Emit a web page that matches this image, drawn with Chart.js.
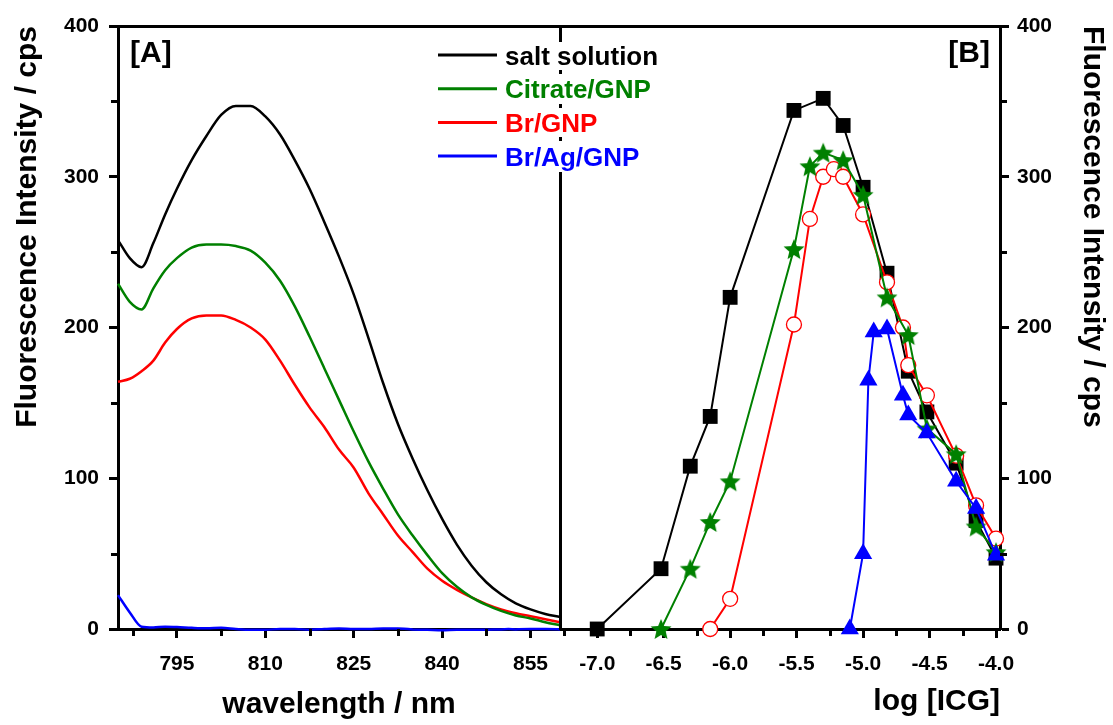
<!DOCTYPE html>
<html>
<head>
<meta charset="utf-8">
<title>ICG fluorescence</title>
<script src="https://cdn.jsdelivr.net/npm/chart.js@4.4.0/dist/chart.umd.min.js"></script>
<style>
  body { margin: 0; background: #fff; }
</style>
</head>
<body>
<canvas id="fluo" width="1113" height="725"></canvas>
<script>
// PANEL A : emission spectra
const wavelength = [785, 787, 789, 791, 793, 795, 797.5, 800, 802.5, 805, 807.5, 810, 812.5, 815, 817.5, 820,
  822.5, 825, 827.5, 830, 832.5, 835, 837.5, 840, 842.5, 845, 847.5, 850, 852.5, 855, 857.5, 860];
const saltSpectrum = [258, 246, 240, 256, 275, 292, 311, 327, 341, 347, 347, 340, 328, 311, 292, 270,
  247, 222, 193, 163, 136, 113, 92, 73, 56, 42, 31, 23, 17, 13, 10, 8];
const citrateSpectrum = [229, 217, 212, 226, 238, 246, 253, 255, 255, 254, 251, 243, 231, 214, 194, 173,
  152, 131, 111, 93, 76, 62, 49, 37, 28, 21, 16, 12, 9, 7, 4.5, 2.5];
const brSpectrum = [164, 166, 171, 178, 190, 199, 206, 208, 208, 205, 200, 192, 178, 162, 147, 134,
  119, 107, 90, 76, 62, 51, 40, 32, 26, 21, 16.5, 13, 10.5, 8.5, 6.5, 4.5];
const agSpectrum = [22.5, 11, 1.5, 1, 1.5, 1.3, 0.8, 0.5, 0.8, 0, -0.5, -0.5, 0, 0, -0.5, 0,
  0.3, 0, 0, 0.3, 0.3, -0.3, -0.5, -0.8, -0.5, -0.5, -0.5, -0.3, -0.3, 0, 0, -0.3];

// PANEL B : intensity vs log [ICG]
const saltConc = [-7.0, -6.52, -6.3, -6.15, -6.0, -5.52, -5.3, -5.15, -5.0, -4.82, -4.66, -4.52, -4.3, -4.15, -4.0];
const saltInt = [0, 40, 108, 141, 220, 344, 352, 334, 293, 236, 171, 144, 110, 72, 47];
const citrateConc = [-6.52, -6.3, -6.15, -6.0, -5.52, -5.4, -5.3, -5.15, -5.0, -4.82, -4.66, -4.52, -4.3, -4.15, -4.0];
const citrateInt = [0, 40, 71, 98, 252, 307, 316, 311, 288, 220, 195, 133, 116, 68, 51];
const brConc = [-6.15, -6.0, -5.52, -5.4, -5.3, -5.22, -5.15, -5.0, -4.82, -4.7, -4.66, -4.52, -4.3, -4.15, -4.0];
const brInt = [0, 20, 202, 272, 300, 305, 300, 275, 230, 200, 175, 155, 115, 82, 60];
const agConc = [-5.1, -5.0, -4.96, -4.92, -4.82, -4.7, -4.66, -4.52, -4.3, -4.15, -4.0];
const agInt = [0, 50, 165, 197, 199, 155, 142, 130, 98, 80, 49];

// TICKS
const intensityTicks = [0, 100, 200, 300, 400];
const intensityMinor = [50, 150, 250, 350];
const wavelengthTicks = [795, 810, 825, 840, 855];
const wavelengthMinor = [787.5, 802.5, 817.5, 832.5, 847.5];
const logTicks = [-7.0, -6.5, -6.0, -5.5, -5.0, -4.5, -4.0];
const logMinor = [-7.25, -6.75, -6.25, -5.75, -5.25, -4.75, -4.25];

const seriesNames = ["salt solution", "Citrate/GNP", "Br/GNP", "Br/Ag/GNP"];
const seriesColors = ["#000000", "#008000", "#ff0000", "#0000ff"];

const FONT = "'Liberation Sans', Arial, sans-serif";
Chart.defaults.font.family = FONT;
Chart.defaults.color = "#000";

function pts(xs, ys) {
  return xs.map((x, i) => ({ x: x, y: ys[i] }));
}

// filled five point star for the citrate markers
function makeStar(color, r) {
  const c = document.createElement("canvas");
  c.width = c.height = 2 * r + 2;
  const g = c.getContext("2d");
  g.fillStyle = color;
  g.beginPath();
  for (let i = 0; i < 10; i++) {
    const rad = i % 2 ? r * 0.45 : r;
    const a = -Math.PI / 2 + i * Math.PI / 5;
    g.lineTo(r + 1 + rad * Math.cos(a), r + 1 + rad * Math.sin(a) + 1);
  }
  g.closePath();
  g.fill();
  return c;
}
const star = makeStar(seriesColors[1], 11);

function spectrum(i, data) {
  return {
    label: seriesNames[i],
    data: pts(wavelength, data),
    xAxisID: "xA", yAxisID: "yA",
    showLine: true,
    borderColor: seriesColors[i],
    borderWidth: 2.5,
    pointRadius: 0,
    cubicInterpolationMode: "monotone",
    clip: false,
  };
}

function tickStyle(extra) {
  return Object.assign({
    color: "#000",
    font: { size: 21, weight: "bold" },
    maxRotation: 0,
    autoSkip: false,
  }, extra);
}
const gridStyle = { drawOnChartArea: false, tickLength: 9, tickWidth: 3, tickColor: "#000" };
const borderStyle = { color: "#000", width: 3 };
const titleFont = { size: 30, weight: "bold", lineHeight: 1 };

// FRAME, MINOR TICKS, LEGEND, PANEL LETTERS
const decorations = {
  id: "decorations",
  afterDraw(chart) {
    const { ctx, chartArea, scales } = chart;
    const top = Math.round(chartArea.top) + 0.5;
    ctx.save();
    ctx.strokeStyle = "#000";
    ctx.lineWidth = 3;
    ctx.beginPath();
    ctx.moveTo(chartArea.left - 1, top);
    ctx.lineTo(chartArea.right + 2, top);
    const mid = Math.round(scales.xA.right) + 0.5;
    ctx.moveTo(mid, top);
    ctx.lineTo(mid, chartArea.bottom + 1);
    ctx.stroke();

    // minor ticks
    ctx.beginPath();
    intensityMinor.forEach(v => {
      const y = Math.round(scales.yA.getPixelForValue(v)) + 0.5;
      ctx.moveTo(scales.yA.right - 7, y);
      ctx.lineTo(scales.yA.right, y);
      const y2 = Math.round(scales.yB.getPixelForValue(v)) + 0.5;
      ctx.moveTo(scales.yB.left, y2);
      ctx.lineTo(scales.yB.left + 7, y2);
    });
    wavelengthMinor.forEach(v => {
      const x = Math.round(scales.xA.getPixelForValue(v)) + 0.5;
      ctx.moveTo(x, scales.xA.top);
      ctx.lineTo(x, scales.xA.top + 7);
    });
    logMinor.forEach(v => {
      const x = Math.round(scales.xB.getPixelForValue(v)) + 0.5;
      ctx.moveTo(x, scales.xB.top);
      ctx.lineTo(x, scales.xB.top + 7);
    });
    ctx.stroke();

    // legend (covers the divider, leaving a few stubs like the original)
    ctx.fillStyle = "#fff";
    ctx.fillRect(430, 42, 236, 130);
    ctx.fillStyle = "#000";
    [72, 106, 139].forEach(y => ctx.fillRect(mid - 1.5, y - 2, 3, 4));
    ctx.font = "bold 26px " + FONT;
    ctx.textBaseline = "alphabetic";
    ctx.textAlign = "left";
    seriesNames.forEach((name, i) => {
      const y = 55 + i * 33.7;
      ctx.strokeStyle = seriesColors[i];
      ctx.lineWidth = 3;
      ctx.beginPath();
      ctx.moveTo(438, y);
      ctx.lineTo(497, y);
      ctx.stroke();
      ctx.fillStyle = seriesColors[i];
      ctx.fillText(name, 505, y + 9.5);
    });

    // panel letters
    ctx.fillStyle = "#000";
    ctx.font = "bold 30px " + FONT;
    ctx.fillText("[A]", 130, 62);
    ctx.textAlign = "right";
    ctx.fillText("[B]", 990, 62);
    ctx.restore();
  }
};

new Chart(document.getElementById("fluo"), {
  type: "scatter",
  data: {
    datasets: [
      {
        label: seriesNames[3], data: pts(agConc, agInt), xAxisID: "xB", yAxisID: "yB",
        showLine: true, borderColor: seriesColors[3], borderWidth: 2,
        pointStyle: "triangle", pointRadius: 10.5, pointBorderWidth: 0,
        pointBackgroundColor: seriesColors[3], clip: false,
      },
      {
        label: seriesNames[1], data: pts(citrateConc, citrateInt), xAxisID: "xB", yAxisID: "yB",
        showLine: true, borderColor: seriesColors[1], borderWidth: 2,
        pointStyle: star, pointRadius: 11, clip: false,
      },
      {
        label: seriesNames[2], data: pts(brConc, brInt), xAxisID: "xB", yAxisID: "yB",
        showLine: true, borderColor: seriesColors[2], borderWidth: 2,
        pointStyle: "circle", pointRadius: 7.5, pointBorderWidth: 1.3,
        pointBorderColor: seriesColors[2], pointBackgroundColor: "#fff", clip: false,
      },
      {
        label: seriesNames[0], data: pts(saltConc, saltInt), xAxisID: "xB", yAxisID: "yB",
        showLine: true, borderColor: seriesColors[0], borderWidth: 2,
        pointStyle: "rect", pointRadius: 10.5, pointBorderWidth: 0,
        pointBackgroundColor: seriesColors[0], clip: false,
      },
      spectrum(0, saltSpectrum),
      spectrum(1, citrateSpectrum),
      spectrum(2, brSpectrum),
      spectrum(3, agSpectrum),
    ],
  },
  options: {
    responsive: false,
    animation: false,
    events: [],
    layout: { padding: { top: 26, left: 0, right: 0, bottom: 0 } },
    plugins: { legend: { display: false }, tooltip: { enabled: false } },
    scales: {
      xA: {
        type: "linear", axis: "x", position: "bottom", stack: "bottom", stackWeight: 442,
        min: 785, max: 860,
        afterBuildTicks: s => { s.ticks = wavelengthTicks.map(v => ({ value: v })); },
        afterFit: s => { s.height = 96; },
        grid: gridStyle, border: borderStyle,
        ticks: tickStyle({ padding: 14 }),
        title: { display: true, text: "wavelength / nm", color: "#000", font: titleFont, padding: { top: 0, bottom: 5 } },
      },
      xB: {
        type: "linear", axis: "x", position: "bottom", stack: "bottom", stackWeight: 440,
        min: -7.28, max: -3.97,
        afterBuildTicks: s => { s.ticks = logTicks.map(v => ({ value: v })); },
        afterFit: s => { s.height = 96; },
        grid: gridStyle, border: borderStyle,
        ticks: tickStyle({ padding: 14, callback: v => v.toFixed(1) }),
        title: { display: true, text: "log [ICG]", align: "end", color: "#000", font: titleFont, padding: { top: 0, bottom: 8 } },
      },
      yA: {
        type: "linear", axis: "y", position: "left", min: 0, max: 400,
        afterBuildTicks: s => { s.ticks = intensityTicks.map(v => ({ value: v })); },
        afterFit: s => { s.width = 118; },
        grid: gridStyle, border: borderStyle,
        ticks: tickStyle({ padding: 10 }),
        title: { display: true, text: "Fluorescence Intensity / cps", align: "end", color: "#000", font: titleFont, padding: { top: 13, bottom: 0 } },
      },
      yB: {
        type: "linear", axis: "y", position: "right", min: 0, max: 400,
        afterBuildTicks: s => { s.ticks = intensityTicks.map(v => ({ value: v })); },
        afterFit: s => { s.width = 113; },
        grid: gridStyle, border: borderStyle,
        ticks: tickStyle({ padding: 8 }),
        title: { display: true, text: "Fluorescence Intensity / cps", align: "end", color: "#000", font: titleFont, padding: { top: 6, bottom: 0 } },
      },
    },
  },
  plugins: [decorations],
});
</script>
</body>
</html>
